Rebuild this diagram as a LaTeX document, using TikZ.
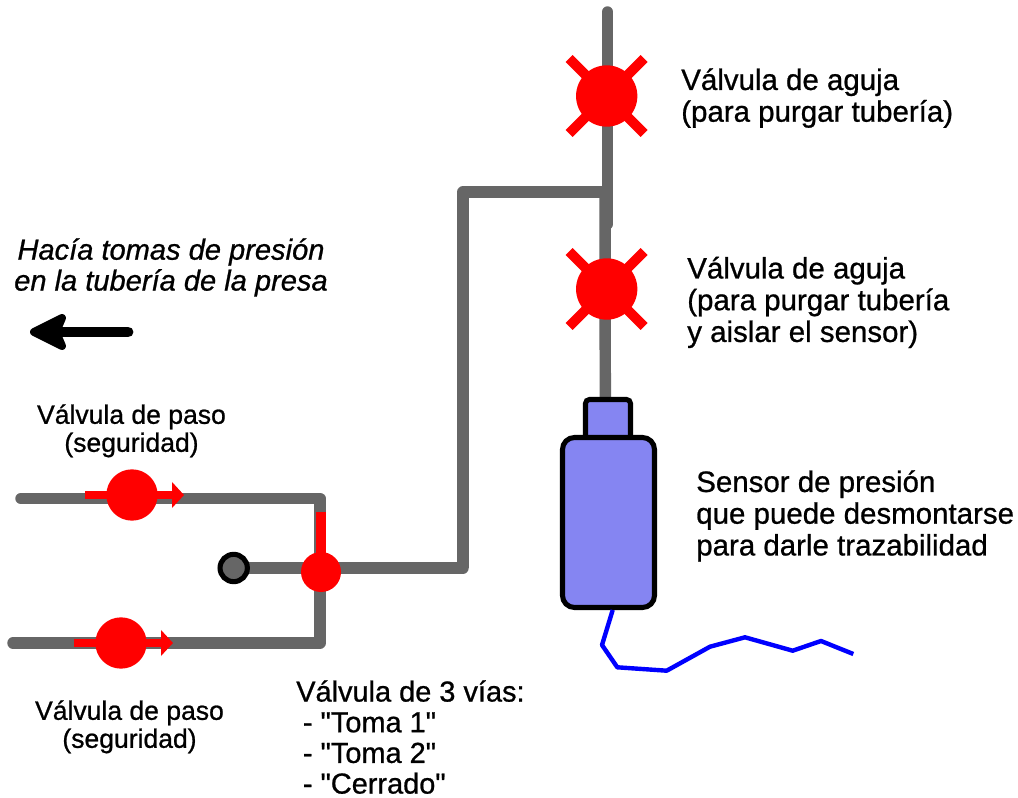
\documentclass[tikz,border=0pt]{standalone}
\usepackage{fontspec}
\newfontfamily\lf[FakeBold=0.8]{Liberation Sans}
\usetikzlibrary{arrows.meta}
\definecolor{pipe}{HTML}{666666}
\definecolor{sensorfill}{HTML}{8585F2}
\tikzset{
  pipeline/.style={draw=pipe,line width=8.6pt,line cap=round,line join=round},
  redfill/.style={circle,fill=red,draw=none,inner sep=0pt},
  redbar/.style={draw=red,line width=7.4pt},
  redarrow/.style={draw=red,line width=6.2pt,-{Triangle[length=9pt,width=19pt]}},
  sensorbox/.style={draw=black,line width=3.8pt,fill=sensorfill,rounded corners=7pt},
  lbl/.style={inner sep=0pt,font=\lf\fontsize{22.1}{23.8}\selectfont,align=left,anchor=north west},
  lblc/.style={inner sep=0pt,font=\lf\fontsize{19.9}{21}\selectfont,align=center,anchor=north},
}
\begin{document}
\begin{tikzpicture}[x=0.75pt,y=-0.75pt]
\useasboundingbox (0,0) rectangle (1018,798);
\fill[white] (0,0) rectangle (1018,798);
% coordinates
\coordinate (topend) at (607.5,12);
\coordinate (topbot) at (607.5,224);
\coordinate (elbowa) at (463,192);
\coordinate (tee) at (605,192);
\coordinate (elbowb) at (463,568);
\coordinate (plugc) at (234,568);
\coordinate (upl) at (21,498.5);
\coordinate (upr) at (320,498.5);
\coordinate (lowl) at (13,643);
\coordinate (lowr) at (320,643);
\coordinate (sensortop) at (605.3,400);
% pipes
\draw[pipeline] (topend) -- (topbot);
\draw[pipeline,line cap=butt] (elbowb) -- (elbowa) -- (tee);
\draw[pipeline,line cap=butt] (tee) -- (sensortop);
\draw[pipeline] (plugc) -- (elbowb);
\draw[pipeline] (upl) -- (upr) -- (lowr) -- (lowl);
% needle valves
\foreach \n/\cy in {va/96,vb/289}{
  \draw[redbar] (569.2,\cy-37.5) -- (644.2,\cy+37.5);
  \draw[redbar] (644.2,\cy-37.5) -- (569.2,\cy+37.5);
  \node[redfill,minimum size=46pt] (\n) at (606.7,\cy) {};
}
% safety valves
\draw[redarrow] (85,495) -- (184,495);
\node[redfill,minimum size=38.5pt] (vc) at (132,495) {};
\draw[redarrow] (74,643) -- (173,643);
\node[redfill,minimum size=38.5pt] (vd) at (121,643) {};
% 3-way valve
\node[redfill,minimum size=30pt] (ve) at (321,572) {};
\coordinate (stemtop) at (321,512);
\draw[redbar] (stemtop) -- (ve.center);
% plug
\node[circle,draw=black,fill=pipe,line width=3.8pt,minimum size=20.5pt,inner sep=0pt] (plug) at (233.7,568) {};
% sensor
\draw[sensorbox,rounded corners=3pt] (585.5,399.5) rectangle (630.5,445);
\draw[sensorbox,rounded corners=9pt] (562.5,437.5) rectangle (654.5,607.5);
% cable
\coordinate (bodybot) at (612.7,610);
\draw[blue,line width=3.3pt,line join=round] (bodybot) -- (602,645) -- (617.3,667.3) -- (666.7,670.7) -- (710,646.7) -- (745,637.3) -- (792.7,650.7) -- (821,641) -- (853.3,654);
% big arrow
\coordinate (arrs) at (128,332);
\coordinate (arre) at (50,332);
\draw[black,line width=8.2pt,line cap=round] (arrs) -- (arre);
\filldraw[black,line width=6pt,line join=round] (34,332) -- (62,318) -- (56,332) -- (62,346) -- cycle;
% labels
\node[lbl] (t1) at (681,68) {Válvula de aguja\\(para purgar tubería)};
\node[lbl] (t2) at (687,256.5) {Válvula de aguja\\(para purgar tubería\\y aislar el sensor)};
\node[lbl] (t3) at (696,470) {Sensor de presión\\que puede desmontarse\\para darle trazabilidad};
\node[lbl,font=\lf\fontsize{21.7}{23}\selectfont] (t4) at (296,680) {Válvula de 3 vías:\\\hspace*{5pt}- "Toma 1"\\\hspace*{5pt}- "Toma 2"\\\hspace*{5pt}- "Cerrado"};
\node[lbl,font=\lf\fontsize{21.8}{23.2}\itshape\selectfont,align=center,anchor=north] (t5) at (171,238) {Hacía tomas de presión\\en la tubería de la presa};
\node[lblc] (t6) at (131.5,404) {Válvula de paso\\(seguridad)};
\node[lblc] (t7) at (129.5,700) {Válvula de paso\\(seguridad)};
\end{tikzpicture}
\end{document}
